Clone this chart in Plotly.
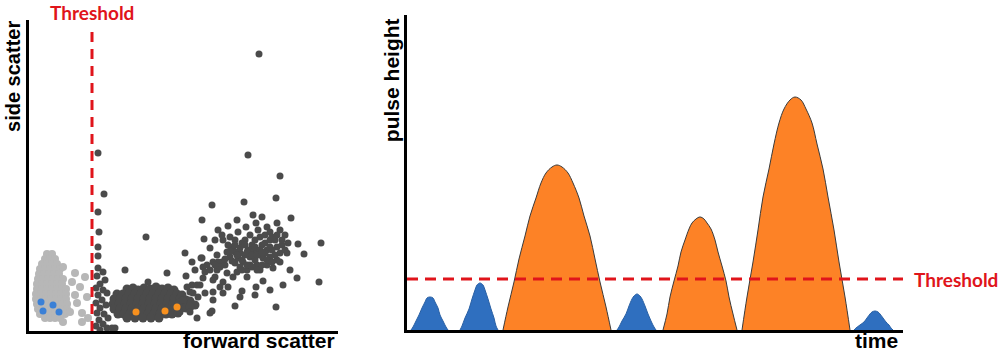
import plotly.graph_objects as go

# ---------------- Left panel: forward vs side scatter (arbitrary units) ----------------
light_fsc = [18, 23, 16, 21, 26, 13, 18, 23, 28, 11, 16, 21, 26, 31, 10, 15, 20, 25, 30,
             9, 14, 19, 24, 29, 34, 8, 13, 18, 23, 28, 33, 8, 13, 18, 23, 28, 33, 37,
             7, 12, 17, 22, 27, 32, 37, 7, 12, 17, 22, 27, 32, 37, 8, 13, 18, 23, 28, 33, 38,
             9, 14, 19, 24, 29, 34, 38, 11, 16, 21, 26, 31, 36, 16, 21, 26, 31,
             34, 46, 56, 51, 46, 58, 48, 41, 53, 59, 34, 53, 43]
light_ssc = [77, 77, 72, 72, 72, 67, 67, 67, 67, 62, 62, 62, 62, 62, 57, 57, 57, 57, 57,
             52, 52, 52, 52, 52, 52, 47, 47, 47, 47, 47, 47, 42, 42, 42, 42, 42, 42, 42,
             37, 37, 37, 37, 37, 37, 37, 32, 32, 32, 32, 32, 32, 32, 27, 27, 27, 27, 27, 27, 27,
             22, 22, 22, 22, 22, 22, 22, 17, 17, 17, 17, 17, 17, 13, 13, 13, 13,
             64, 58, 54, 44, 36, 34, 28, 19, 18, 13, 9, 9, 49]

blue_fsc = [12, 24, 14, 30]
blue_ssc = [29, 26, 20, 19]

core_fsc = [98, 104, 109, 115, 121, 127, 133, 139, 145,
            88, 94, 100, 106, 112, 118, 124, 130, 136, 142, 148, 153,
            85, 91, 97, 103, 109, 115, 121, 127, 133, 139, 145, 151, 157, 161,
            84, 90, 96, 102, 108, 114, 120, 126, 132, 138, 144, 150, 156, 162, 166,
            85, 91, 97, 103, 109, 115, 121, 127, 133, 139, 145, 151, 157, 161,
            89, 95, 101, 107, 113, 119, 125, 131, 137, 143, 149,
            98, 106, 114, 122, 130]
core_ssc = [42, 43, 41, 43, 42, 44, 42, 43, 41,
            37, 37, 37, 37, 37, 37, 37, 37, 37, 37, 37, 36,
            32, 32, 32, 32, 32, 32, 32, 32, 32, 32, 32, 32, 31, 30,
            27, 27, 27, 27, 27, 27, 27, 27, 27, 27, 27, 27, 27, 27, 26,
            22, 22, 22, 22, 22, 22, 22, 22, 22, 22, 22, 22, 23, 24,
            17, 17, 17, 17, 17, 17, 17, 17, 17, 17, 18,
            13, 13, 13, 13, 13]

dark_fsc = [69, 74, 68, 76, 71, 67, 74, 78, 69, 73, 67, 77, 71, 68, 75, 79, 70, 74, 67, 78, 83, 71, 86,
            69, 75, 69, 70, 69, 69,
            96, 119, 138, 117, 156, 157, 163, 171, 173, 174, 176, 161, 153, 151, 161, 168, 181, 174,
            183, 215, 247, 173, 224, 233, 262, 208, 227, 248, 199, 189, 217, 238, 175, 269, 275, 172,
            268, 158, 168, 184, 194, 213, 227, 234, 247, 206, 183, 169, 184, 194, 204, 218, 231, 244,
            251, 258, 259, 256, 251, 181, 178, 176, 188, 193, 194, 201, 209, 221, 231, 241, 248, 251,
            248, 238, 228, 218, 208, 198, 201, 211, 221, 231, 238, 233, 223, 213, 204, 198, 188, 184,
            214, 206, 226, 219, 209, 241, 229, 241, 216, 206, 191, 199, 164, 154,
            206, 216, 226, 196, 211, 221, 234, 199, 189, 236, 243, 181, 186, 166, 163, 186, 193, 184,
            211, 226, 241, 254, 261,
            201, 206, 211, 216, 221, 226, 231, 236, 241, 246, 203, 208, 213, 218, 223, 228, 233, 238,
            243, 213, 218, 223, 228, 233, 196, 191, 186, 246, 226, 236, 243, 253, 256, 248, 253,
            230, 310, 219, 251, 290, 292]
dark_ssc = [63, 59, 55, 51, 47, 43, 41, 38, 36, 31, 28, 26, 23, 18, 17, 13, 11, 7, 5, 3, 3, 1, 3,
            178, 137, 119, 99, 84, 75,
            61, 49, 58, 94, 78, 55, 46, 46, 73, 64, 38, 39, 31, 19, 19, 13, 18, 53,
            126, 129, 133, 111, 116, 114, 113, 111, 108, 108, 105, 101, 104, 104, 92, 87, 77, 73,
            53, 44, 46, 39, 38, 40, 44, 50, 24, 25, 20, 34, 51, 49, 54, 54, 61, 63,
            69, 78, 88, 96, 101, 83, 66, 59, 61, 69, 91, 94, 99, 96, 94, 91, 84, 78,
            71, 66, 66, 61, 59, 58, 74, 78, 74, 76, 81, 86, 86, 88, 84, 79, 76, 69,
            69, 68, 79, 81, 73, 74, 101, 99, 91, 91, 44, 44, 38, 31,
            79, 76, 71, 66, 64, 66, 73, 86, 69, 88, 81, 61, 54, 61, 69, 91, 96, 31,
            34, 36, 41, 46, 61,
            80, 86, 83, 86, 81, 84, 81, 78, 84, 76, 70, 76, 71, 79, 76, 76, 79, 71,
            69, 61, 66, 64, 61, 66, 72, 64, 66, 91, 91, 96, 94, 86, 81, 96, 91,
            277, 152, 176, 155, 49, 88]

orange_fsc = [107, 136, 148]
orange_ssc = [19, 20, 24]

fsc_threshold = 63

# ---------------- Right panel: pulses over time ----------------
p1_t = [4, 6, 9, 12, 15, 18, 20, 23, 26, 28, 31, 33, 36, 39, 41]
p1_h = [0, 3, 9, 15, 22, 28, 32, 33, 32, 28, 22, 15, 9, 3, 0]
p2_t = [53, 55, 58, 62, 65, 68, 70, 73, 76, 78, 81, 84, 87, 89, 91]
p2_h = [0, 4, 12, 21, 31, 40, 45, 47, 45, 40, 31, 21, 12, 4, 0]
p3_t = [96, 101, 107, 112, 118, 123, 129, 134, 139, 145, 150,
        155, 161, 166, 172, 177, 183, 188, 193, 199, 204]
p3_h = [0, 23, 48, 71, 94, 114, 132, 147, 157, 163, 165,
        163, 157, 147, 132, 114, 94, 71, 48, 23, 0]
p4_t = [210, 212, 215, 219, 222, 225, 227, 230, 233, 235, 238, 241, 244, 247, 249]
p4_h = [0, 3, 9, 16, 24, 31, 34, 36, 34, 31, 24, 16, 9, 3, 0]
p5_t = [256, 260, 263, 267, 271, 274, 278, 282, 285, 289, 293,
        297, 300, 304, 308, 311, 315, 319, 322, 326, 330]
p5_h = [0, 16, 33, 49, 64, 78, 90, 101, 107, 111, 113,
        111, 107, 101, 90, 78, 64, 49, 33, 16, 0]
p6_t = [335, 340, 346, 351, 356, 362, 367, 372, 377, 383, 388,
        394, 399, 405, 410, 416, 421, 427, 432, 438, 443]
p6_h = [0, 33, 68, 100, 133, 161, 186, 207, 221, 230, 233,
        230, 221, 207, 186, 161, 133, 100, 68, 33, 0]
p7_t = [447, 449, 453, 457, 460, 463, 465, 468, 471, 473, 476, 479, 482, 484, 486]
p7_h = [0, 2, 5, 8, 12, 16, 18, 19, 18, 16, 12, 8, 5, 2, 0]
pulses_t = [p1_t, p2_t, p3_t, p4_t, p5_t, p6_t, p7_t]
pulses_h = [p1_h, p2_h, p3_h, p4_h, p5_h, p6_h, p7_h]
pulse_detected = [False, False, True, False, True, True, False]

height_threshold = 51

# ---------------- Styles ----------------
RED = "#e0141b"
ORANGE = "#fd8226"
BLUE = "#2f6fbf"
DARK = "#4b4b4b"
LIGHT = "#b7b7b7"
LABEL_FONT = "Liberation Sans, Arial, sans-serif"
THR_FONT = "Lato, Liberation Sans, sans-serif"

fig = go.Figure()

fig.add_trace(go.Scatter(x=light_fsc, y=light_ssc, mode="markers", cliponaxis=False,
                         marker=dict(color=LIGHT, size=8), xaxis="x", yaxis="y"))
fig.add_trace(go.Scatter(x=blue_fsc, y=blue_ssc, mode="markers", cliponaxis=False,
                         marker=dict(color="#3b80d6", size=7), xaxis="x", yaxis="y"))
fig.add_trace(go.Scatter(x=core_fsc, y=core_ssc, mode="markers", cliponaxis=False,
                         marker=dict(color=DARK, size=9), xaxis="x", yaxis="y"))
fig.add_trace(go.Scatter(x=dark_fsc, y=dark_ssc, mode="markers", cliponaxis=False,
                         marker=dict(color=DARK, size=7), xaxis="x", yaxis="y"))
fig.add_trace(go.Scatter(x=orange_fsc, y=orange_ssc, mode="markers", cliponaxis=False,
                         marker=dict(color="#f7901e", size=7), xaxis="x", yaxis="y"))

for t, h, det in zip(pulses_t, pulses_h, pulse_detected):
    fig.add_trace(go.Scatter(
        x=t, y=h, mode="lines", line_shape="spline",
        fill="toself", fillcolor=ORANGE if det else BLUE,
        line=dict(color="#3a3a3a" if det else "#285fa3", width=1),
        xaxis="x2", yaxis="y2"))

fig.add_shape(type="line", xref="x", yref="y", x0=fsc_threshold, x1=fsc_threshold,
              y0=0, y1=304, line=dict(color=RED, width=3, dash="10px,7px"))
fig.add_shape(type="line", xref="x2", yref="y2", x0=0, x1=496,
              y0=height_threshold, y1=height_threshold,
              line=dict(color=RED, width=3, dash="11px,7px"))

axis_common = dict(showline=True, linecolor="black", linewidth=3, showticklabels=False,
                   ticks="", showgrid=False, zeroline=False)

fig.update_layout(
    width=1000, height=353, margin=dict(l=0, r=0, t=0, b=0),
    paper_bgcolor="white", plot_bgcolor="white", showlegend=False,
    xaxis=dict(domain=[0.029, 0.338], range=[0, 309], anchor="y", **axis_common),
    yaxis=dict(domain=[0.0623, 0.9433], range=[0, 311], anchor="x", **axis_common),
    xaxis2=dict(domain=[0.407, 0.903], range=[0, 496], anchor="y2", **axis_common),
    yaxis2=dict(domain=[0.0652, 0.9575], range=[0, 315], anchor="x2", **axis_common),
)

ann = []
ann.append(dict(text="<b>Threshold</b>", xref="x", yref="paper", x=fsc_threshold, y=1.0,
                xanchor="center", yanchor="top", showarrow=False, borderpad=0,
                font=dict(family=THR_FONT, size=19, color=RED)))
ann.append(dict(text="<b>Threshold</b>", xref="paper", yref="paper", x=0.912, y=0.2096,
                xanchor="left", yanchor="middle", showarrow=False,
                font=dict(family=THR_FONT, size=19, color=RED)))
ann.append(dict(text="<b>side scatter</b>", xref="paper", yref="paper", x=0.013, y=0.782,
                textangle=-90, xanchor="center", yanchor="middle", showarrow=False,
                font=dict(family=LABEL_FONT, size=20, color="black")))
ann.append(dict(text="<b>forward scatter</b>", xref="paper", yref="paper", x=0.259, y=0.0,
                xanchor="center", yanchor="bottom", showarrow=False, borderpad=0,
                font=dict(family=LABEL_FONT, size=21, color="black")))
ann.append(dict(text="<b>pulse height</b>", xref="paper", yref="paper", x=0.391, y=0.773,
                textangle=-90, xanchor="center", yanchor="middle", showarrow=False,
                font=dict(family=LABEL_FONT, size=21, color="black")))
ann.append(dict(text="<b>time</b>", xref="paper", yref="paper", x=0.876, y=0.0,
                xanchor="center", yanchor="bottom", showarrow=False, borderpad=0,
                font=dict(family=LABEL_FONT, size=21, color="black")))
fig.update_layout(annotations=ann)

fig.write_html("out.html")
